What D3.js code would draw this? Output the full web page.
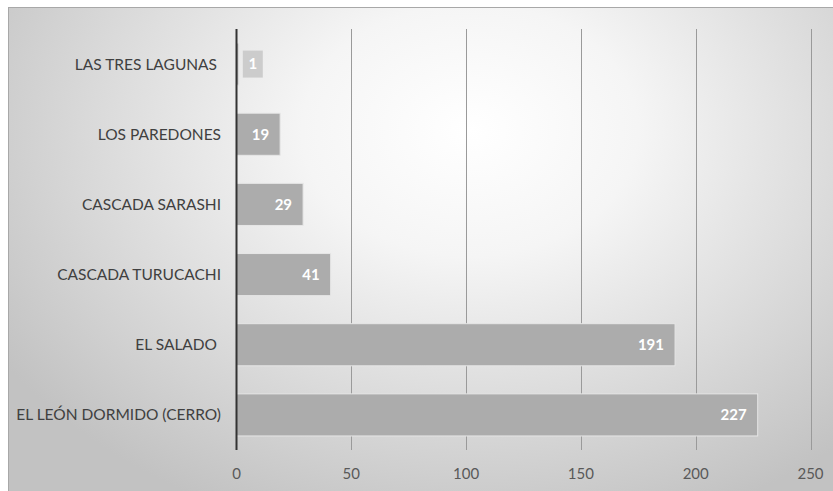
<!DOCTYPE html>
<html>
<head>
<meta charset="utf-8">
<script src="https://cdn.jsdelivr.net/npm/d3@7/dist/d3.min.js"></script>
<style>
  html, body { margin: 0; padding: 0; background: #ffffff; }
  svg { display: block; }
  text { font-family: Lato, "Open Sans", sans-serif; }
</style>
</head>
<body>
<svg id="chart" width="833" height="491"></svg>
<script>
// Visitors per destination (top to bottom as drawn)
const categories = [
  "LAS TRES LAGUNAS ",
  "LOS PAREDONES",
  "CASCADA SARASHI",
  "CASCADA TURUCACHI",
  "EL SALADO ",
  "EL LEÓN DORMIDO (CERRO)"
];
const values = [1, 19, 29, 41, 191, 227];
const xTicks = [0, 50, 100, 150, 200, 250];

const svg = d3.select("#chart");
const W = 833, H = 491;

// Frame background: soft radial shading, light in the middle
const defs = svg.append("defs");
const grad = defs.append("radialGradient")
  .attr("id", "bg")
  .attr("gradientUnits", "userSpaceOnUse")
  .attr("cx", 470).attr("cy", 130).attr("r", 560)
  .attr("gradientTransform", "translate(470,130) scale(1,0.75) translate(-470,-130)");
grad.append("stop").attr("offset", "0%").attr("stop-color", "#ffffff");
grad.append("stop").attr("offset", "30%").attr("stop-color", "#f5f5f5");
grad.append("stop").attr("offset", "100%").attr("stop-color", "#c2c2c2");

svg.append("rect")
  .attr("x", 8.5).attr("y", 7.5)
  .attr("width", W).attr("height", H)
  .attr("fill", "url(#bg)")
  .attr("stroke", "#a8a8a8").attr("stroke-width", 1);

const margin = { left: 236.5, right: 22, top: 29, bottom: 41 };
const x = d3.scaleLinear()
  .domain([0, 250])
  .range([margin.left, margin.left + 5 * 114.8]);
const y = d3.scaleBand()
  .domain(categories)
  .range([margin.top, H - margin.bottom])
  .paddingInner(0.4)
  .paddingOuter(0.2);

// Vertical gridlines
svg.append("g")
  .selectAll("line")
  .data(xTicks.filter(t => t > 0))
  .join("line")
  .attr("x1", d => Math.round(x(d)) + 0.5)
  .attr("x2", d => Math.round(x(d)) + 0.5)
  .attr("y1", margin.top)
  .attr("y2", H - margin.bottom)
  .attr("stroke", "#9a9a9a")
  .attr("stroke-width", 1);

// Bars
svg.append("g")
  .selectAll("rect")
  .data(values)
  .join("rect")
  .attr("x", x(0))
  .attr("y", (d, i) => y(categories[i]))
  .attr("width", d => x(d) - x(0))
  .attr("height", y.bandwidth())
  .attr("fill", "#acacac")
  .attr("stroke", "#e6e6e6")
  .attr("stroke-width", 1);

// Value labels: inside the bar end, or in a small box past short bars
const labels = svg.append("g")
  .attr("font-size", 15)
  .attr("font-weight", "bold")
  .attr("fill", "#ffffff");
values.forEach((v, i) => {
  const cy = y(categories[i]) + y.bandwidth() / 2;
  const barW = x(v) - x(0);
  if (barW < 20) {
    const bx = x(v) + 4, bw = 20, bh = 27;
    labels.append("rect")
      .attr("x", bx).attr("y", cy - bh / 2)
      .attr("width", bw).attr("height", bh)
      .attr("fill", "#cccccc");
    labels.append("text")
      .attr("x", bx + bw / 2).attr("y", cy)
      .attr("dy", "0.35em")
      .attr("text-anchor", "middle")
      .text(v);
  } else {
    labels.append("text")
      .attr("x", x(v) - 11).attr("y", cy)
      .attr("dy", "0.35em")
      .attr("text-anchor", "end")
      .text(v);
  }
});

// Category axis line
svg.append("line")
  .attr("x1", x(0)).attr("x2", x(0))
  .attr("y1", margin.top).attr("y2", H - margin.bottom)
  .attr("stroke", "#333333")
  .attr("stroke-width", 2);

// Category labels
svg.append("g")
  .selectAll("text")
  .data(categories)
  .join("text")
  .attr("x", 221)
  .attr("y", d => y(d) + y.bandwidth() / 2)
  .attr("dy", "0.35em")
  .attr("text-anchor", "end")
  .attr("font-size", 15.5)
  .attr("fill", "#404040")
  .style("white-space", "pre")
  .text(d => d);

// Value axis tick labels
svg.append("g")
  .selectAll("text")
  .data(xTicks)
  .join("text")
  .attr("x", d => x(d))
  .attr("y", 479)
  .attr("text-anchor", "middle")
  .attr("font-size", 15)
  .attr("fill", "#595959")
  .text(d => d);
</script>
</body>
</html>
